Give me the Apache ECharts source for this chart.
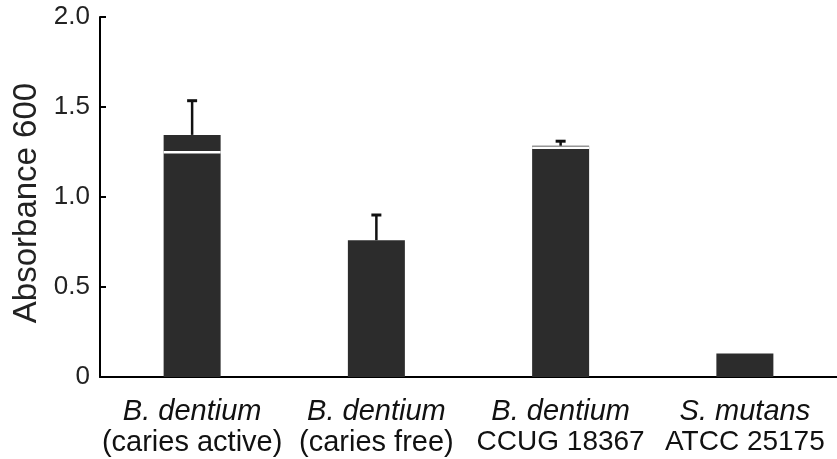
<!DOCTYPE html>
<html>
<head>
<meta charset="utf-8">
<script src="https://cdn.jsdelivr.net/npm/echarts@6/dist/echarts.min.js"></script>
<style>
html,body{margin:0;padding:0;background:#fff;}
#c{width:837px;height:459px;}
</style>
</head>
<body>
<div id="c"></div>
<script>
// ---- data ----
const species = ['B. dentium', 'B. dentium', 'B. dentium', 'S. mutans'];
const strains = ['(caries active)', '(caries free)', 'CCUG 18367', 'ATCC 25175'];
const values = [1.345, 0.76, 1.285, 0.13];
const errorTops = [1.535, 0.90, 1.31, null];
const gapLines = [1.25, null, 1.275, null];
const yTicks = [0, 0.5, 1.0, 1.5, 2.0];

const FONT = '"Liberation Sans", Arial, sans-serif';
const BAR_W = 57;
const chart = echarts.init(document.getElementById('c'), null, {renderer: 'canvas'});

const errData = values.map((v, i) => [i, v, errorTops[i]]).filter(d => d[2] != null);
const gapData = gapLines.map((g, i) => [i, g]).filter(d => d[1] != null);

chart.setOption({
  animation: false,
  backgroundColor: '#fff',
  grid: {left: 100, top: 17, bottom: 82, right: 0},
  xAxis: {
    type: 'category',
    data: species.map((s, i) => i),
    axisLine: {lineStyle: {color: '#000', width: 2}},
    axisTick: {show: false},
    axisLabel: {
      margin: 19,
      interval: 0,
      formatter: (v, i) => '{sp|' + species[i] + '}\n' +
        (strains[i].charAt(0) === '(' ? '{st|' : '{code|') + strains[i] + '}',
      rich: {
        sp: {fontFamily: FONT, fontSize: 29, fontStyle: 'italic', color: '#111', lineHeight: 31},
        st: {fontFamily: FONT, fontSize: 29, color: '#111', lineHeight: 31},
        code: {fontFamily: FONT, fontSize: 28, color: '#111', lineHeight: 31}
      }
    }
  },
  yAxis: {
    type: 'value',
    min: 0, max: 2, interval: 0.5,
    name: 'Absorbance 600',
    nameLocation: 'middle',
    nameGap: 57,
    nameTextStyle: {fontFamily: FONT, fontSize: 33, color: '#222', padding: [0, 12, 0, 0]},
    axisLine: {show: true, lineStyle: {color: '#000', width: 2}},
    axisTick: {show: true, inside: true, length: 6, lineStyle: {color: '#000', width: 2}},
    splitLine: {show: false},
    axisLabel: {
      fontFamily: FONT, fontSize: 26, color: '#222', margin: 10,
      formatter: v => (yTicks.indexOf(v) >= 0 ? (v === 0 ? '0' : v.toFixed(1)) : '')
    }
  },
  series: [
    {
      type: 'bar',
      data: values,
      barWidth: BAR_W,
      itemStyle: {color: '#2c2c2c'},
      z: 2
    },
    {
      type: 'custom',
      data: gapData,
      z: 3,
      renderItem: (params, api) => {
        const p = api.coord([api.value(0), api.value(1)]);
        return {type: 'rect', shape: {x: p[0] - BAR_W / 2, y: p[1] - 1, width: BAR_W, height: 2.5}, style: {fill: '#fff'}};
      }
    },
    {
      type: 'custom',
      data: errData,
      z: 4,
      renderItem: (params, api) => {
        const b = api.coord([api.value(0), api.value(1)]);
        const t = api.coord([api.value(0), api.value(2)]);
        const cap = 5;
        return {
          type: 'group',
          children: [
            {type: 'line', shape: {x1: b[0], y1: b[1], x2: t[0], y2: t[1]}, style: {stroke: '#111', lineWidth: 2.5}},
            {type: 'line', shape: {x1: t[0] - cap, y1: t[1], x2: t[0] + cap, y2: t[1]}, style: {stroke: '#111', lineWidth: 3}}
          ]
        };
      }
    }
  ]
});
</script>
</body>
</html>
